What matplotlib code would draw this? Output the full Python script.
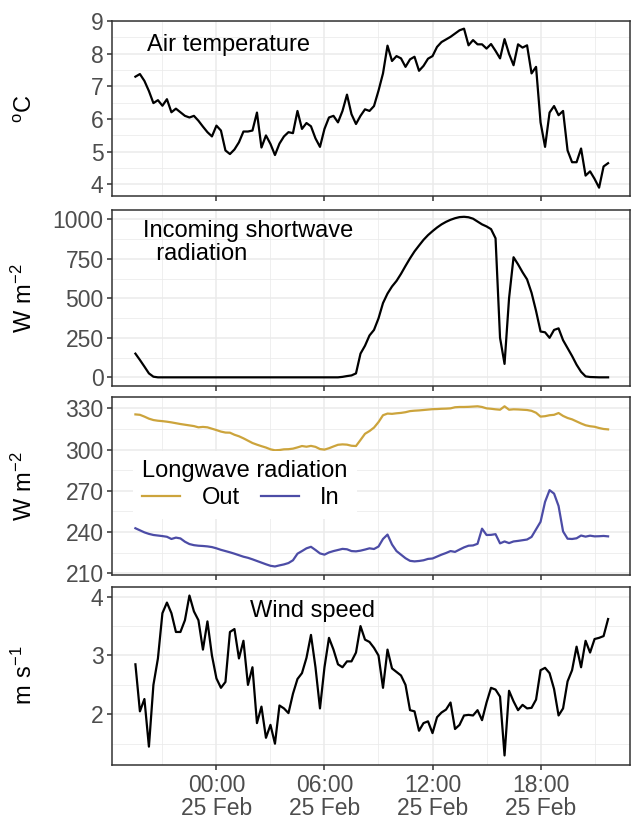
import numpy as np
import pandas as pd
import matplotlib
matplotlib.use('Agg')
import matplotlib.pyplot as plt
import matplotlib.dates as mdates
from matplotlib.ticker import MultipleLocator

plt.rcParams['font.family'] = ['Liberation Sans', 'DejaVu Sans']
plt.rcParams['mathtext.fontset'] = 'custom'
plt.rcParams['mathtext.rm'] = 'Liberation Sans'

# 15-minute records, 24 Feb 19:30 to 25 Feb 21:45
air_temp = [
    7.30, 7.38, 7.17, 6.86, 6.49, 6.58, 6.41, 6.61, 6.21, 6.32,
    6.21, 6.10, 6.05, 6.10, 5.95, 5.77, 5.60, 5.47, 5.80, 5.65,
    5.04, 4.93, 5.07, 5.29, 5.62, 5.62, 5.65, 6.20, 5.13, 5.50,
    5.24, 4.90, 5.25, 5.47, 5.60, 5.57, 6.25, 5.70, 5.88, 5.78,
    5.41, 5.15, 5.70, 6.05, 6.10, 5.90, 6.25, 6.75, 6.15, 5.85,
    6.10, 6.30, 6.25, 6.40, 6.87, 7.40, 8.25, 7.78, 7.93, 7.86,
    7.60, 7.83, 7.91, 7.48, 7.63, 7.85, 7.93, 8.21, 8.36, 8.44,
    8.52, 8.62, 8.72, 8.77, 8.26, 8.42, 8.29, 8.29, 8.16, 8.30,
    8.09, 7.86, 8.45, 8.00, 7.65, 8.29, 8.19, 8.26, 7.40, 7.60,
    5.90, 5.15, 6.20, 6.40, 6.12, 6.25, 5.04, 4.68, 4.68, 5.10,
    4.27, 4.40, 4.17, 3.90, 4.55, 4.65,
]

sw_in = [
    150, 110, 68, 25, 4, 0, 0, 0, 0, 0,
    0, 0, 0, 0, 0, 0, 0, 0, 0, 0,
    0, 0, 0, 0, 0, 0, 0, 0, 0, 0,
    0, 0, 0, 0, 0, 0, 0, 0, 0, 0,
    0, 0, 0, 0, 0, 0, 3, 8, 12, 25,
    150, 200, 265, 300, 373, 470, 530, 575, 610, 655,
    705, 753, 797, 834, 870, 900, 925, 948, 968, 984,
    997, 1007, 1014, 1016, 1013, 1004, 986, 968, 955, 938,
    880, 250, 85, 500, 760, 715, 665, 620, 535, 420,
    290, 285, 250, 300, 310, 235, 185, 135, 80, 35,
    6, 2, 1, 0, 0, 0,
]

lw_out = [
    325.6, 325.3, 324.0, 322.5, 321.5, 321.0, 320.7, 320.3, 319.8, 319.2,
    318.6, 318.1, 317.6, 317.1, 316.2, 316.5, 316.2, 315.2, 314.2, 313.1,
    312.4, 312.3, 310.8, 309.7, 308.2, 306.5, 304.8, 303.6, 302.5, 301.5,
    300.2, 299.5, 299.7, 300.2, 300.3, 300.7, 301.6, 302.6, 302.1, 302.7,
    302.0, 300.4, 300.0, 301.0, 302.3, 303.5, 303.8, 303.6, 302.8, 302.6,
    307.0, 311.5, 313.5, 316.0, 320.0, 325.0, 326.2, 326.0, 326.4, 326.7,
    327.2, 328.0, 328.3, 328.5, 328.8, 329.1, 329.4, 329.5, 329.7, 329.8,
    330.0, 330.8, 331.0, 331.0, 331.1, 331.3, 331.5, 331.0, 330.0, 329.7,
    329.3, 329.0, 331.5, 329.0, 329.3, 329.2, 329.0, 328.8, 328.2, 326.8,
    324.0, 324.3, 325.0, 325.3, 326.6, 324.5, 323.0, 322.0, 320.5, 319.0,
    317.7, 317.0, 316.6, 315.7, 315.0, 314.7,
]

lw_in = [
    242.8, 241.3, 239.8, 238.7, 237.9, 237.5, 237.1, 236.6, 235.0, 236.0,
    235.4, 233.0, 231.3, 230.5, 230.1, 229.9, 229.6, 229.1, 228.2, 227.1,
    226.2, 225.3, 224.3, 223.2, 222.1, 221.3, 220.2, 219.0, 217.8, 216.6,
    215.5, 215.0, 215.8, 216.5, 217.5, 219.5, 224.3, 226.2, 228.2, 229.3,
    227.0, 224.5, 223.6, 225.2, 226.2, 227.0, 227.8, 227.5, 226.2, 226.0,
    226.5, 227.3, 228.2, 227.7, 229.5, 235.0, 238.2, 231.0, 226.2, 223.6,
    221.0, 219.1, 218.7, 219.0, 219.5, 220.5, 220.8, 222.2, 223.6, 224.8,
    226.2, 225.6, 227.3, 228.9, 230.1, 230.3, 231.5, 242.5, 237.9, 238.0,
    238.5, 231.8, 233.2, 232.0, 233.2, 233.6, 234.1, 234.6, 236.5, 242.0,
    247.5, 262.0, 270.5, 268.0, 259.0, 240.5, 235.2, 235.0, 235.5, 237.5,
    236.7, 237.4, 236.9, 237.0, 237.2, 236.9,
]

wind = [
    2.85, 2.05, 2.26, 1.45, 2.50, 2.95, 3.72, 3.90, 3.72, 3.40,
    3.40, 3.60, 4.02, 3.75, 3.60, 3.10, 3.58, 3.00, 2.61, 2.45,
    2.55, 3.40, 3.45, 2.95, 3.25, 2.50, 2.80, 1.85, 2.13, 1.60,
    1.82, 1.50, 2.15, 2.10, 2.02, 2.35, 2.60, 2.70, 2.96, 3.35,
    2.80, 2.10, 2.80, 3.30, 3.10, 2.85, 2.80, 2.90, 2.90, 3.05,
    3.50, 3.27, 3.23, 3.13, 3.00, 2.45, 3.10, 2.78, 2.72, 2.66,
    2.50, 2.07, 2.05, 1.72, 1.85, 1.88, 1.68, 1.95, 2.03, 2.08,
    2.20, 1.75, 1.82, 1.98, 1.99, 1.98, 2.07, 1.90, 2.20, 2.45,
    2.42, 2.30, 1.30, 2.40, 2.22, 2.07, 2.16, 2.10, 2.11, 2.25,
    2.75, 2.79, 2.70, 2.43, 1.98, 2.10, 2.56, 2.75, 3.15, 2.80,
    3.25, 3.05, 3.28, 3.30, 3.33, 3.62,
]

times = pd.date_range('2021-02-24 19:30', periods=len(air_temp), freq='15min')
xlim = (pd.Timestamp('2021-02-24 18:12'), pd.Timestamp('2021-02-25 22:58'))

OUT_COL = '#CCA43C'
IN_COL = '#4C4CA6'
FS = 17
TICK_FS = 16.5


def style_axes(ax, ylim, major, minor, ylabel, bottom=False):
    ax.set_xlim(xlim)
    ax.set_ylim(ylim)
    ax.xaxis.set_major_locator(mdates.HourLocator(byhour=[0, 6, 12, 18]))
    ax.xaxis.set_minor_locator(mdates.HourLocator(byhour=[3, 9, 15, 21]))
    ax.xaxis.set_major_formatter(mdates.DateFormatter('%H:%M\n%d %b'))
    ax.yaxis.set_major_locator(MultipleLocator(major))
    ax.yaxis.set_minor_locator(MultipleLocator(minor))
    ax.grid(which='major', color='#EBEBEB', lw=1.1)
    ax.grid(which='minor', color='#EBEBEB', lw=0.55)
    ax.set_axisbelow(True)
    for s in ax.spines.values():
        s.set_color('#333333')
        s.set_linewidth(1.1)
    ax.tick_params(which='major', length=3.6, width=1.1, color='#333333',
                   labelsize=TICK_FS, labelcolor='#4D4D4D', pad=2.5)
    ax.tick_params(axis='x', pad=3)
    ax.tick_params(which='minor', length=0)
    ax.tick_params(axis='x', labelbottom=bottom)
    ax.set_ylabel(ylabel, fontsize=FS)
    ax.yaxis.set_label_coords(-0.145, 0.5)


fig = plt.figure(figsize=(6.31, 8.23), dpi=100)
left, width = 0.1775, 0.8209

# air temperature
ax1 = fig.add_axes([left, 0.76124, width, 0.21385])
ax1.plot(times, air_temp, color='black', lw=1.6)
style_axes(ax1, (3.63, 9.02), 1, 0.5, r'$\mathregular{^oC}$')
ax1.text(pd.Timestamp('2021-02-24 20:08'), 8.26, 'Air temperature',
         fontsize=FS, ha='left', va='center')

# incoming shortwave
ax2 = fig.add_axes([left, 0.53038, width, 0.21446])
ax2.plot(times, sw_in, color='black', lw=1.6)
style_axes(ax2, (-58, 1059), 250, 125, r'$\mathregular{W\ m^{-2}}$')
ax2.text(pd.Timestamp('2021-02-24 19:56'), 853, 'Incoming shortwave\n  radiation',
         fontsize=FS, ha='left', va='center', linespacing=1.05)

# longwave out / in
ax3 = fig.add_axes([left, 0.30134, width, 0.21568])
ax3.plot(times, lw_out, color=OUT_COL, lw=1.6, label='Out')
ax3.plot(times, lw_in, color=IN_COL, lw=1.6, label='In')
style_axes(ax3, (208.8, 337.9), 30, 15, r'$\mathregular{W\ m^{-2}}$')
leg = ax3.legend(title='Longwave radiation', ncol=2, loc='upper left',
                 bbox_to_anchor=(0.0405, 0.6986), fontsize=FS, title_fontsize=FS,
                 frameon=True, fancybox=False, framealpha=1, edgecolor='none',
                 handlelength=1.6, handletextpad=0.9, columnspacing=0.9,
                 borderpad=0.4, labelspacing=0.2, borderaxespad=0)
leg._legend_box.align = 'left'

# wind speed
ax4 = fig.add_axes([left, 0.07108, width, 0.21568])
ax4.plot(times, wind, color='black', lw=1.6)
style_axes(ax4, (1.146, 4.165), 1, 0.5, r'$\mathregular{m\ s^{-1}}$', bottom=True)
ax4.text(pd.Timestamp('2021-02-25 01:52'), 3.75, 'Wind speed',
         fontsize=FS, ha='left', va='center')

# tighter two-line date labels
fig.canvas.draw()
for lab in ax4.get_xticklabels():
    lab.set_linespacing(1.0)

fig.savefig('out.png', dpi=100)
